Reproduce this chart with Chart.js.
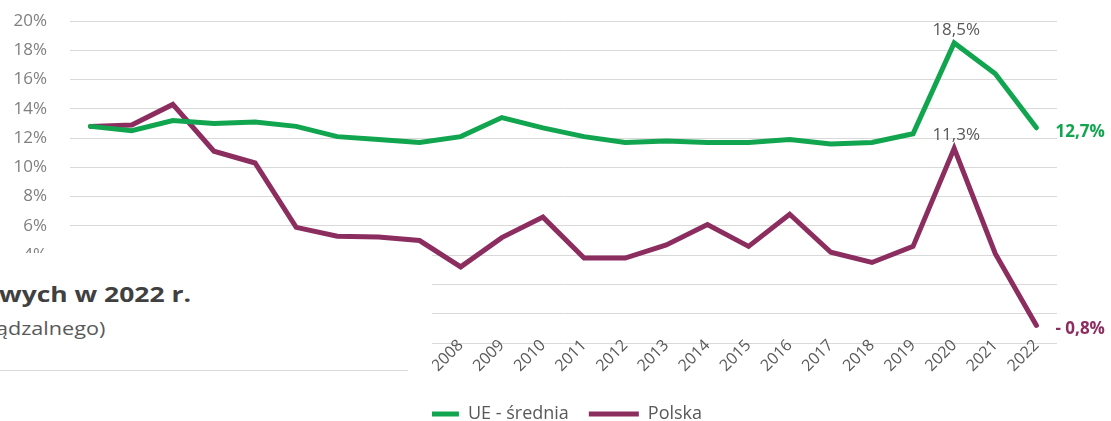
<!DOCTYPE html>
<html>
<head>
<meta charset="utf-8">
<script src="https://cdn.jsdelivr.net/npm/chart.js@4"></script>
<style>
  html, body { margin: 0; padding: 0; background: #fff; }
  #wrap { position: relative; width: 1111px; height: 421px; overflow: hidden; }
  #cover { position: absolute; left: 0; top: 253px; width: 432px; height: 168px; background: #fff; font-family: "Open Sans", sans-serif; }
  #cover .t1 { position: absolute; left: -1px; top: 27px; font-size: 21px; font-weight: bold; color: #404040; white-space: nowrap; transform: scaleX(1.26); transform-origin: left top; }
  #cover .t2 { position: absolute; left: -4px; top: 63px; font-size: 18px; color: #595959; white-space: nowrap; transform: scaleX(1.2); transform-origin: left top; }
  #cover .sep { position: absolute; left: 0; top: 117px; width: 408px; height: 1px; background: #d9d9d9; }
</style>
</head>
<body>
<div id="wrap">
  <canvas id="chart" width="1111" height="421"></canvas>
  <div id="cover">
    <div class="t1">wych w 2022 r.</div>
    <div class="t2">ądzalnego)</div>
    <div class="sep"></div>
  </div>
</div>
<script>
// categories
var years = ['1999','2000','2001','2002','2003','2004','2005','2006','2007','2008','2009','2010',
             '2011','2012','2013','2014','2015','2016','2017','2018','2019','2020','2021','2022'];

// series values (%)
var ueSrednia = [12.8, 12.5, 13.2, 13.0, 13.1, 12.8, 12.1, 11.9, 11.7, 12.1, 13.4, 12.7,
                 12.1, 11.7, 11.8, 11.7, 11.7, 11.9, 11.6, 11.7, 12.3, 18.5, 16.4, 12.7];
var polska    = [12.8, 12.9, 14.3, 11.1, 10.3, 5.9, 5.3, 5.25, 5.0, 3.2, 5.2, 6.6,
                 3.8, 3.8, 4.7, 6.1, 4.6, 6.8, 4.2, 3.5, 4.6, 11.3, 4.1, -0.8];

var seriesNames = ['UE - średnia', 'Polska'];

// axis
var yMin = -2, yMax = 20, yStep = 2;

// point labels: [dataset, index, text]
var peakLabels = [[0, 21, '18,5%'], [1, 21, '11,3%']];
var endLabels  = [[0, 23, '12,7%'], [1, 23, '- 0,8%']];

var green = '#12a54f';
var plum = '#8c2d60';
var font = '"Open Sans", sans-serif';

// draws the value labels next to points
var valueLabels = {
    id: 'valueLabels',
    afterDatasetsDraw: function (chart) {
        var ctx = chart.ctx;
        var x = chart.scales.x, y = chart.scales.y;
        ctx.save();
        ctx.font = '17px ' + font;
        ctx.fillStyle = '#595959';
        ctx.textAlign = 'center';
        ctx.textBaseline = 'alphabetic';
        peakLabels.forEach(function (l) {
            var v = chart.data.datasets[l[0]].data[l[1]];
            ctx.fillText(l[2], x.getPixelForValue(l[1]) + 2, y.getPixelForValue(v) - 8);
        });
        ctx.font = 'bold 17px ' + font;
        ctx.textAlign = 'left';
        ctx.textBaseline = 'middle';
        endLabels.forEach(function (l) {
            var v = chart.data.datasets[l[0]].data[l[1]];
            ctx.fillStyle = l[0] === 0 ? green : plum;
            ctx.fillText(l[2], x.getPixelForValue(l[1]) + 19, y.getPixelForValue(v) + 4);
        });
        ctx.restore();
    }
};

var ctx = document.getElementById('chart').getContext('2d');
var chart = new Chart(ctx, {
    type: 'line',
    data: {
        labels: years,
        datasets: [
            {
                label: seriesNames[0],
                data: ueSrednia,
                borderColor: green,
                backgroundColor: green,
                borderWidth: 5,
                pointRadius: 0,
                tension: 0,
                borderCapStyle: 'round'
            },
            {
                label: seriesNames[1],
                data: polska,
                borderColor: plum,
                backgroundColor: plum,
                borderWidth: 5,
                pointRadius: 0,
                tension: 0,
                borderCapStyle: 'round'
            }
        ]
    },
    options: {
        responsive: false,
        animation: false,
        layout: { padding: { top: 21, right: 0, left: 0, bottom: -12 } },
        plugins: {
            tooltip: { enabled: false },
            legend: {
                position: 'bottom',
                labels: {
                    color: '#595959',
                    font: { family: font, size: 18 },
                    boxWidth: 50,
                    boxHeight: 5,
                    padding: 20,
                    generateLabels: function (c) {
                        return c.data.datasets.map(function (ds, i) {
                            return {
                                text: ds.label,
                                fillStyle: ds.borderColor,
                                strokeStyle: ds.borderColor,
                                lineWidth: 0,
                                fontColor: '#595959',
                                datasetIndex: i
                            };
                        });
                    }
                }
            }
        },
        scales: {
            x: {
                offset: true,
                grid: { display: false },
                border: { display: false },
                ticks: {
                    color: '#595959',
                    font: { family: font, size: 16 },
                    minRotation: 45,
                    maxRotation: 45,
                    autoSkip: false,
                    padding: -15
                },
                afterFit: function (s) { s.height = 42; },
                // let the rotated labels run up over the lowest gridline
                afterUpdate: function (s) { s._computeLabelArea = function () { return undefined; }; }
            },
            y: {
                min: yMin,
                max: yMax,
                grid: { color: '#d9d9d9', lineWidth: 1, drawTicks: false },
                border: { display: false },
                ticks: {
                    stepSize: yStep,
                    color: '#7f7f7f',
                    font: { family: font, size: 17 },
                    padding: 23,
                    callback: function (v) { return v + '%'; }
                },
                afterFit: function (s) { s.width = 70; s.paddingTop = 0; s.paddingBottom = 0; }
            },
            // empty right-hand strip for the end labels
            yRight: {
                position: 'right',
                min: yMin,
                max: yMax,
                grid: { display: false },
                border: { display: false },
                ticks: { display: false },
                afterFit: function (s) { s.width = 54; s.paddingTop = 0; s.paddingBottom = 0; }
            }
        }
    },
    plugins: [valueLabels]
});
</script>
</body>
</html>
